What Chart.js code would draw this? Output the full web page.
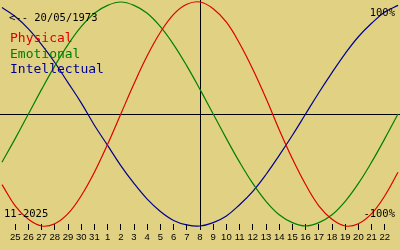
<!DOCTYPE html>
<html>
<head>
<meta charset="utf-8">
<script src="https://cdn.jsdelivr.net/npm/chart.js@4.4.1/dist/chart.umd.min.js"></script>
<style>
html,body{margin:0;padding:0;background:#e0d282;}
#wrap{width:400px;height:250px;position:relative;}
</style>
</head>
<body>
<div id="wrap"><canvas id="c" width="400" height="250"></canvas></div>
<script>
// Days shown (24 Oct 2025 .. 23 Nov 2025); today = 8 Nov
const days = ['24','25','26','27','28','29','30','31','1','2','3','4','5','6','7','8','9','10','11','12','13','14','15','16','17','18','19','20','21','22','23'];
const todayIndex = 15;
const physical = [-0.63,-0.82,-0.94,-1.00,-0.98,-0.89,-0.73,-0.52,-0.27,0.00,0.27,0.52,0.73,0.89,0.98,1.00,0.94,0.82,0.63,0.40,0.14,-0.14,-0.40,-0.63,-0.82,-0.94,-1.00,-0.98,-0.89,-0.73,-0.52];
const emotional = [-0.43,-0.22,0.00,0.22,0.43,0.62,0.78,0.90,0.97,1.00,0.97,0.90,0.78,0.62,0.43,0.22,0.00,-0.22,-0.43,-0.62,-0.78,-0.90,-0.97,-1.00,-0.97,-0.90,-0.78,-0.62,-0.43,-0.22,0.00];
const intellectual = [0.95,0.87,0.76,0.62,0.46,0.28,0.10,-0.10,-0.28,-0.46,-0.62,-0.76,-0.87,-0.95,-0.99,-1.00,-0.97,-0.91,-0.81,-0.69,-0.54,-0.37,-0.19,0.00,0.19,0.37,0.54,0.69,0.81,0.91,0.97];
const seriesNames = ['Physical','Emotional','Intellectual'];
const seriesColors = ['#dd0000','#008000','#000090'];
const birthText = '<-- 20/05/1973';
const monthText = '11-2025';
const topText = '100%';
const bottomText = '-100%';

const overlay = {
  id: 'overlay',
  beforeDatasetsDraw(chart) {
    const ctx = chart.ctx, x = chart.scales.x, y = chart.scales.y;
    ctx.save();
    ctx.strokeStyle = '#000';
    ctx.lineWidth = 1;
    const y0 = Math.round(y.getPixelForValue(0)) + 0.5;
    ctx.beginPath(); ctx.moveTo(0, y0); ctx.lineTo(chart.width, y0); ctx.stroke();
    const xt = Math.round(x.getPixelForValue(todayIndex)) + 0.5;
    ctx.beginPath(); ctx.moveTo(xt, 0); ctx.lineTo(xt, chart.chartArea.bottom + 2); ctx.stroke();
    ctx.restore();
  },
  afterDraw(chart) {
    const ctx = chart.ctx;
    ctx.save();
    ctx.textBaseline = 'alphabetic';
    ctx.fillStyle = '#000';
    ctx.font = '10.5px "DejaVu Sans Mono"';
    ctx.textAlign = 'left';
    ctx.fillText(birthText, 9, 21);
    ctx.fillText(monthText, 4, 217);
    ctx.textAlign = 'right';
    ctx.fillText(topText, 395, 16);
    ctx.fillText(bottomText, 395, 217);
    ctx.textAlign = 'left';
    ctx.font = '13px "DejaVu Sans Mono"';
    const bl = [42, 58, 73];
    seriesNames.forEach((n, i) => { ctx.fillStyle = seriesColors[i]; ctx.fillText(n, 10, bl[i]); });
    ctx.restore();
  }
};

const mk = (i, data) => ({
  label: seriesNames[i], data, borderColor: seriesColors[i], backgroundColor: seriesColors[i],
  borderWidth: 1.2, pointRadius: 0, tension: 0.4, fill: false, clip: false
});

new Chart(document.getElementById('c'), {
  type: 'line',
  data: { labels: days, datasets: [mk(0, physical), mk(1, emotional), mk(2, intellectual)] },
  options: {
    responsive: false, animation: false, devicePixelRatio: 1,
    layout: { padding: { left: 0, right: 0, top: 0, bottom: 4.6 } },
    plugins: { legend: { display: false }, tooltip: { enabled: false } },
    scales: {
      x: {
        type: 'category', offset: false,
        border: { display: false },
        grid: { drawOnChartArea: false, tickLength: 6, lineWidth: 1,
          color: c => (c.index > 0 && c.index < days.length - 1) ? '#000' : 'rgba(0,0,0,0)' },
        ticks: { autoSkip: false, maxRotation: 0, minRotation: 0, padding: 2, color: '#000',
          font: { family: '"Liberation Sans"', size: 9.5 },
          callback: (v, i) => (i > 0 && i < days.length - 1) ? days[i] : '' }
      },
      y: { display: false, min: -0.982, max: 1.018 }
    }
  },
  plugins: [overlay]
});
</script>
</body>
</html>
